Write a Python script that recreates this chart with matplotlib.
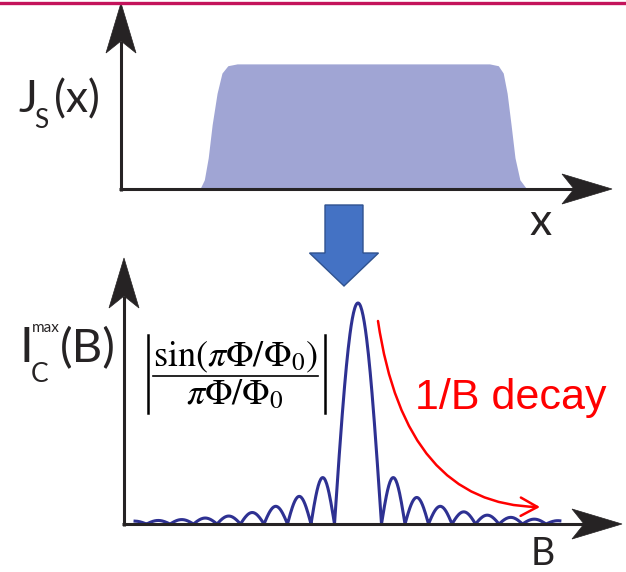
import matplotlib
matplotlib.use("Agg")
import matplotlib.pyplot as plt
import numpy as np
from matplotlib.patches import Polygon, FancyArrow, FancyArrowPatch
from matplotlib.path import Path

# supercurrent density profile J_s(x), x along the junction (arbitrary units 0..100)
js_x = [15.9, 16.8, 17.6, 18.4, 19.4, 20.4, 21.6, 23.5, 75.0, 76.8, 77.8, 78.6, 79.4, 80.2, 81.2, 82.6]
js_y = [0.0, 0.05, 0.17, 0.35, 0.52, 0.63, 0.67, 0.68, 0.68, 0.67, 0.63, 0.52, 0.35, 0.17, 0.05, 0.0]

# Fraunhofer pattern: peak height of each side lobe (relative to central max), B in units of Phi0
lobes_left = [0.21, 0.125, 0.08, 0.052, 0.036, 0.027, 0.02, 0.016, 0.013]
lobes_right = [0.21, 0.12, 0.08, 0.055, 0.04, 0.03, 0.022, 0.015]
b_range = (-9.5, 8.6)

ink = "#262324"


def lobe_curve():
    parts = []
    for n, h in reversed(list(enumerate(lobes_left, start=1))):
        b = np.linspace(-(n + 1), -n, 40)
        parts.append((b, h * np.abs(np.sin(np.pi * b))))
    b = np.linspace(-1, 1, 80)
    parts.append((b, np.cos(np.pi * b / 2)))
    for n, h in enumerate(lobes_right, start=1):
        b = np.linspace(n, n + 1, 40)
        parts.append((b, h * np.abs(np.sin(np.pi * b))))
    B = np.concatenate([p[0] for p in parts])
    I = np.concatenate([p[1] for p in parts])
    keep = (B >= b_range[0]) & (B <= b_range[1])
    return B[keep], I[keep]


def axis_arrow(ax, start, tip, head_len=50, head_w=15, notch=12):
    s = np.array(start, float)
    t = np.array(tip, float)
    d = (t - s) / np.linalg.norm(t - s)
    n = np.array([-d[1], d[0]])
    back = t - d * head_len
    ax.plot([s[0], (t - d * (head_len - notch))[0]], [s[1], (t - d * (head_len - notch))[1]],
            color=ink, lw=2.2, solid_capstyle="butt")
    ax.add_patch(Polygon([t, back + n * head_w, t - d * (head_len - notch), back - n * head_w],
                         closed=True, fc=ink, ec=ink, lw=0.5))


W, H = 626, 572
fig = plt.figure(figsize=(W / 100, H / 100), dpi=100)
plt.rcParams["mathtext.fontset"] = "stix"

# top panel: J_s(x)
ax1 = fig.add_axes([122 / W, 1 - 189 / H, (612 - 122) / W, (189 - 5) / H])
ax1.fill_between(js_x, js_y, 0, color="#a0a5d4", lw=0)
ax1.set_xlim(0, 100)
ax1.set_ylim(0, 1)
ax1.axis("off")

# bottom panel: Ic(B)
B, Ic = lobe_curve()
ax2 = fig.add_axes([124 / W, 1 - 524 / H, (622 - 124) / W, (524 - 260) / H])
ax2.plot(B, Ic, color="#2e3192", lw=2.2)
ax2.set_xlim((124 - 358) / 23.5, (622 - 358) / 23.5)
ax2.set_ylim(0, (524 - 260) / 221)
ax2.axis("off")

# overlay in pixel coordinates for axes arrows and labels
ov = fig.add_axes([0, 0, 1, 1])
ov.set_xlim(0, W)
ov.set_ylim(H, 0)
ov.axis("off")
ov.patch.set_alpha(0)

ov.plot([0, W], [3, 3], color="#c4135b", lw=2.4)

axis_arrow(ov, (121, 191), (121, 3))
axis_arrow(ov, (119, 189), (612, 189))
axis_arrow(ov, (124, 526), (124, 258))
axis_arrow(ov, (122, 524), (622, 524))

# axis labels
lab = dict(color=ink, family="Lato", va="baseline")
ov.text(18, 112, "J", fontsize=32, ha="left", **lab)
ov.text(34, 128, "S", fontsize=19, ha="left", **lab)
ov.text(54, 112, "(x)", fontsize=32, ha="left", **lab)
ov.text(541, 235, "x", fontsize=32, ha="center", **lab)

ov.text(19, 362, "I", fontsize=35, ha="left", **lab)
ov.text(31, 382, "C", fontsize=19, ha="left", **lab)
ov.text(32, 332, "max", fontsize=11, ha="left", **lab)
ov.text(60, 362, "(B)", fontsize=34, ha="left", **lab)
ov.text(543, 565, "B", fontsize=27, ha="center", **lab)

# down arrow between the panels
ov.add_patch(FancyArrow(344, 205, 0, 81, width=38, head_width=69, head_length=33,
                        length_includes_head=True, fc="#4472c4", ec="#2f528f", lw=1))

# formula |sin(pi Phi/Phi0) / (pi Phi/Phi0)|
ov.text(235, 366, r"$\sin(\pi\Phi/\Phi_0)$", fontsize=26, ha="center", va="baseline", color="black")
ov.text(235, 404, r"$\pi\Phi/\Phi_0$", fontsize=26, ha="center", va="baseline", color="black")
ov.plot([153, 318], [376, 376], color="black", lw=1.2)
ov.plot([148, 148], [335, 413], color="black", lw=1.8)
ov.plot([325, 325], [335, 413], color="black", lw=1.8)

# 1/B decay arrow
decay = Path([(378, 321), (405, 505), (540, 507)], [Path.MOVETO, Path.CURVE3, Path.CURVE3])
ov.add_patch(FancyArrowPatch(path=decay, arrowstyle="->,head_length=0.6,head_width=0.33",
                             mutation_scale=20, color="red", lw=1.8))
ov.text(415, 409, "1/B decay", fontsize=31, color="red", family="Liberation Sans",
        ha="left", va="baseline")

fig.savefig("out.png", dpi=100)
